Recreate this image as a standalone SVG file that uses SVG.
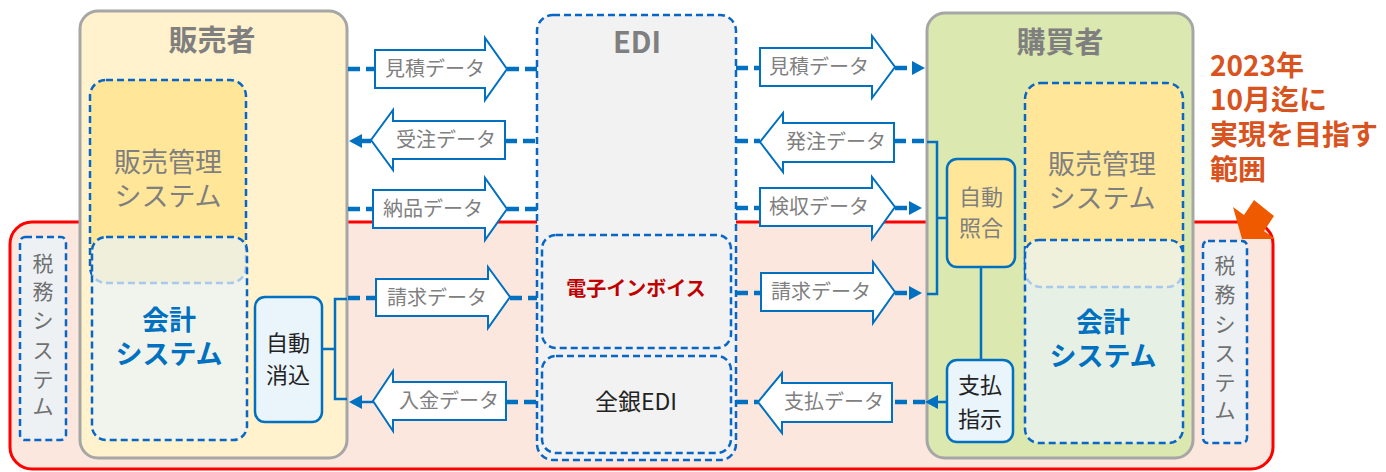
<svg xmlns="http://www.w3.org/2000/svg" width="1386" height="472" viewBox="0 0 1386 472">
<style>
text{font-family:"Noto Sans CJK JP","Noto Sans",sans-serif}
.party{stroke:#a6a6a6;stroke-width:3}
.dbox{stroke:#0866c6;stroke-width:2.5;stroke-dasharray:7 4}
.lbox{fill:none;stroke:#a8c8ec;stroke-width:2.5;stroke-dasharray:7 4}
.sbox{stroke:#0070c0;stroke-width:2.5}
.title{font-size:29px;font-weight:bold;fill:#7f7f7f;text-anchor:middle}
.sys{font-size:27px;fill:#7f7f7f;text-anchor:middle}
.acc{font-size:27px;font-weight:bold;fill:#0070c0;text-anchor:middle}
.tax{font-size:21px;fill:#707070;text-anchor:middle}
.small{font-size:22px;text-anchor:middle}
.blk{fill:#fff;stroke:#0070c0;stroke-width:2}
.lbl{font-size:20px;fill:#808080}
.dash{fill:none;stroke:#0070c0;stroke-width:4.5;stroke-dasharray:12 6}
.solid{fill:none;stroke:#0070c0;stroke-width:2.5}
.ann{font-size:28px;font-weight:bold;fill:#d9531e}
</style>
<defs>
<marker id="ah" viewBox="0 -7 13 14" refX="0" refY="0" markerWidth="13" markerHeight="14" markerUnits="userSpaceOnUse" orient="auto">
<path d="M0,-7 L13,0 L0,7 z" fill="#0070c0"/>
</marker>
<clipPath id="accS"><rect x="92" y="237" width="155" height="203" rx="14"/></clipPath>
<clipPath id="accB"><rect x="1025" y="240" width="158" height="203" rx="14"/></clipPath>
</defs>

<g id="scope">
<rect x="10" y="222" width="1263" height="247" rx="22" fill="#fbe7de" stroke="#ff0000" stroke-width="3"/>
</g>

<g id="seller">
<rect class="party" x="80" y="11" width="267" height="447" rx="18" fill="#fff2cc"/>
<text class="title" x="212" y="51">販売者</text>
</g>

<g id="seller-sales">
<rect class="dbox" x="90" y="80" width="156" height="203" rx="16" fill="#ffe699"/>
<text class="sys"><tspan x="168" y="172">販売管理</tspan><tspan x="168" y="206">システム</tspan></text>
</g>

<g id="seller-acc">
<rect x="92" y="237" width="155" height="203" rx="14" fill="#f1f4ed"/>
<rect clip-path="url(#accS)" x="90" y="80" width="156" height="203" rx="16" fill="#efefdc"/>
<rect clip-path="url(#accS)" class="lbox" x="90" y="80" width="156" height="203" rx="16"/>
<rect class="dbox" x="92" y="237" width="155" height="203" rx="14" fill="none"/>
<text class="acc"><tspan x="169" y="330">会計</tspan><tspan x="169" y="364">システム</tspan></text>
</g>

<g id="seller-tax">
<rect class="dbox" x="20" y="237" width="46" height="203" rx="5" fill="#edf1f4"/>
<text class="tax"><tspan x="43" y="271">税</tspan><tspan x="43" y="299">務</tspan><tspan x="43" y="328">シ</tspan><tspan x="43" y="358">ス</tspan><tspan x="43" y="387">テ</tspan><tspan x="43" y="414">ム</tspan></text>
</g>

<g id="seller-auto">
<rect class="sbox" x="255" y="297" width="67" height="125" rx="10" fill="#eaf4fb"/>
<text class="small" fill="#222"><tspan x="288" y="351">自動</tspan><tspan x="288" y="383">消込</tspan></text>
</g>

<g id="edi">
<rect class="dbox" x="537" y="15" width="199" height="445" rx="16" fill="#f2f2f2"/>
<text class="title" x="637" y="53">EDI</text>
</g>

<g id="edi-invoice">
<rect class="dbox" x="542" y="235" width="189" height="113" rx="14" fill="#f2f2f2"/>
<text x="636" y="296" font-size="20" font-weight="bold" fill="#c00000" text-anchor="middle">電子インボイス</text>
</g>

<g id="edi-zengin">
<rect class="dbox" x="542" y="356" width="189" height="97" rx="14" fill="#f2f2f2"/>
<text x="636" y="410" font-size="23" fill="#222" text-anchor="middle">全銀EDI</text>
</g>

<g id="buyer">
<rect class="party" x="927" y="13" width="266" height="445" rx="18" fill="#dbe8b0"/>
<text class="title" x="1060" y="53">購買者</text>
</g>

<g id="buyer-sales">
<rect class="dbox" x="1025" y="83" width="158" height="204" rx="16" fill="#ffe699"/>
<text class="sys"><tspan x="1102" y="174">販売管理</tspan><tspan x="1102" y="208">システム</tspan></text>
</g>

<g id="buyer-acc">
<rect x="1025" y="240" width="158" height="203" rx="14" fill="#e6f0e4"/>
<rect clip-path="url(#accB)" x="1025" y="83" width="158" height="204" rx="16" fill="#eff1dd"/>
<rect clip-path="url(#accB)" class="lbox" x="1025" y="83" width="158" height="204" rx="16"/>
<rect class="dbox" x="1025" y="240" width="158" height="203" rx="14" fill="none"/>
<text class="acc"><tspan x="1103" y="332">会計</tspan><tspan x="1103" y="366">システム</tspan></text>
</g>

<g id="buyer-tax">
<rect class="dbox" x="1203" y="241" width="44" height="202" rx="5" fill="#edf1f4"/>
<text class="tax"><tspan x="1225" y="273">税</tspan><tspan x="1225" y="302">務</tspan><tspan x="1225" y="332">シ</tspan><tspan x="1225" y="361">ス</tspan><tspan x="1225" y="390">テ</tspan><tspan x="1225" y="418">ム</tspan></text>
</g>

<g id="buyer-match">
<rect class="sbox" x="947" y="159" width="68" height="108" rx="10" fill="#ffe699"/>
<text class="small" fill="#7f7f7f"><tspan x="981" y="205">自動</tspan><tspan x="981" y="236">照合</tspan></text>
</g>

<g id="buyer-pay">
<rect class="sbox" x="947" y="360" width="66" height="82" rx="10" fill="#eaf4fb"/>
<text class="small" fill="#222"><tspan x="980" y="393">支払</tspan><tspan x="980" y="427">指示</tspan></text>
</g>

<g id="connectors">
<path class="dash" d="M348,69 H375 M507,69 H537"/>
<path class="dash" d="M505,141 H537"/>
<path class="dash" d="M371,141 H362" marker-end="url(#ah)"/>
<path class="dash" d="M348,209 H373 M507,209 H537"/>
<path class="dash" d="M348,298 H376 M510,298 H537"/>
<path class="dash" d="M506,402 H537"/>
<path class="solid" d="M373,402 H362" marker-end="url(#ah)"/>
<path class="solid" d="M347,299 H335 V399 H347 M322,349 H335"/>

<path class="dash" d="M736,68 H760"/>
<path class="dash" d="M895,68 H912" marker-end="url(#ah)"/>
<path class="dash" d="M736,141 H760 M894,141 H927"/>
<path class="solid" d="M927,142 H937 V294 H927 M937,218 H947"/>
<path class="dash" d="M736,208 H760"/>
<path class="dash" d="M895,208 H909" marker-end="url(#ah)"/>
<path class="dash" d="M736,293 H761"/>
<path class="dash" d="M895,293 H909" marker-end="url(#ah)"/>
<path class="dash" d="M736,402 H758 M925,402 H892"/>
<path class="solid" d="M947,402 H938" marker-end="url(#ah)"/>
<path class="solid" d="M981,267 V360"/>
</g>

<g id="data-arrows">
<path class="blk" d="M375,50 H485 V38 L507,69 L485,100 V88 H375 Z"/>
<text class="lbl" x="385" y="76">見積データ</text>
<path class="blk" d="M505,121 H393 V110 L371,140 L393,170 V159 H505 Z"/>
<text class="lbl" x="396" y="147">受注データ</text>
<path class="blk" d="M373,190 H485 V178 L507,209 L485,240 V228 H373 Z"/>
<text class="lbl" x="383" y="216">納品データ</text>
<path class="blk" d="M376,279 H488 V267 L510,297 L488,328 V316 H376 Z"/>
<text class="lbl" x="387" y="305">請求データ</text>
<path class="blk" d="M506,382 H393 V371 L373,401 L393,431 V420 H506 Z"/>
<text class="lbl" x="399" y="408">入金データ</text>

<path class="blk" d="M760,48 H872 V36 L895,67 L872,98 V86 H760 Z"/>
<text class="lbl" x="769" y="74">見積データ</text>
<path class="blk" d="M894,123 H783 V113 L760,142 L783,172 V162 H894 Z"/>
<text class="lbl" x="786" y="149">発注データ</text>
<path class="blk" d="M760,188 H872 V177 L895,207 L872,239 V226 H760 Z"/>
<text class="lbl" x="769" y="214">検収データ</text>
<path class="blk" d="M761,273 H873 V262 L895,292 L873,323 V311 H761 Z"/>
<text class="lbl" x="771" y="299">請求データ</text>
<path class="blk" d="M892,383 H782 V373 L758,402 L782,433 V422 H892 Z"/>
<text class="lbl" x="784" y="409">支払データ</text>
</g>

<g id="annotation">
<text class="ann"><tspan x="1210" y="76">2023年</tspan><tspan x="1210" y="110">10月迄に</tspan><tspan x="1210" y="145">実現を目指す</tspan><tspan x="1210" y="180">範囲</tspan></text>
<polygon points="1254,200 1274,216 1264,231 1275,239 1242,239 1233,207 1244,215" fill="#ef5a00"/>
</g>
</svg>
